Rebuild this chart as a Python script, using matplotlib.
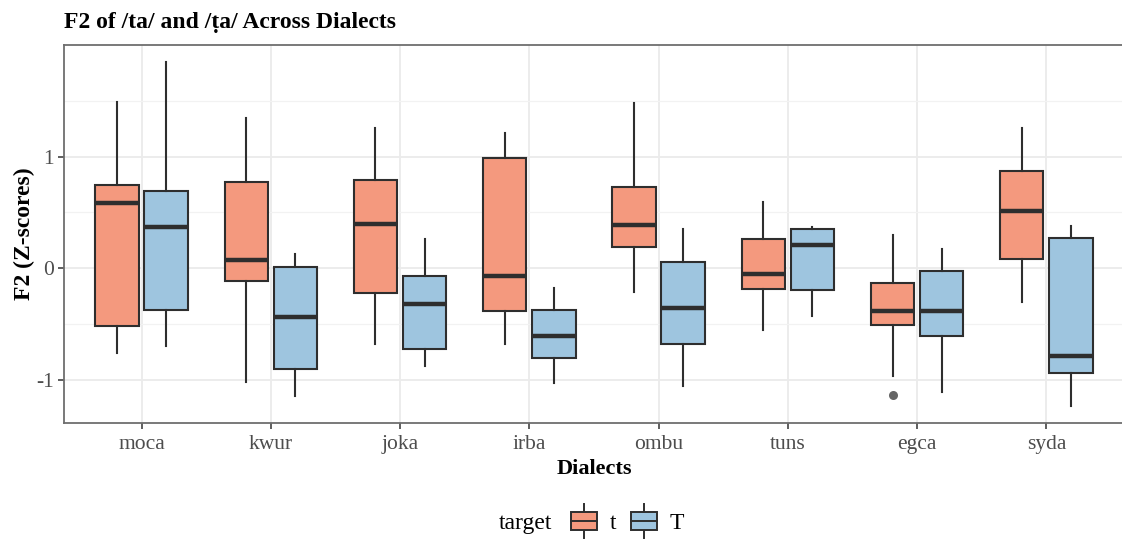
import matplotlib.pyplot as plt
from matplotlib.legend_handler import HandlerBase
from matplotlib.patches import Rectangle, Patch
from matplotlib.lines import Line2D
from matplotlib.ticker import FixedLocator

plt.rcParams['font.family'] = ['Liberation Serif', 'DejaVu Serif']

dialects = ['moca', 'kwur', 'joka', 'irba', 'ombu', 'tuns', 'egca', 'syda']

# five-number summaries of F2 (z-scored) per dialect, target /t/
t_lo  = [-0.76, -1.02, -0.678, -0.678, -0.215, -0.55, -0.962, -0.30]
t_q1  = [-0.517, -0.114, -0.224, -0.383, 0.191, -0.183, -0.511, 0.08]
t_med = [0.58, 0.074, 0.397, -0.072, 0.385, -0.051, -0.383, 0.51]
t_q3  = [0.746, 0.77, 0.79, 0.99, 0.731, 0.26, -0.129, 0.872]
t_hi  = [1.49, 1.35, 1.255, 1.21, 1.484, 0.597, 0.296, 1.26]
t_out = [[], [], [], [], [], [], [-1.135], []]

# same for target /T/
T_lo  = [-0.70, -1.14, -0.88, -1.025, -1.055, -0.427, -1.105, -1.231]
T_q1  = [-0.374, -0.905, -0.723, -0.80, -0.681, -0.194, -0.607, -0.941]
T_med = [0.373, -0.44, -0.317, -0.607, -0.353, 0.206, -0.383, -0.786]
T_q3  = [0.69, 0.009, -0.072, -0.377, 0.056, 0.355, -0.024, 0.271]
T_hi  = [1.85, 0.128, 0.263, -0.177, 0.349, 0.373, 0.176, 0.379]
T_out = [[], [], [], [], [], [], [], []]

targets = ['t', 'T']
fills = {'t': '#F4997E', 'T': '#9EC5DF'}
edge = '#2E2E2E'


def make_stats(lo, q1, med, q3, hi, out):
    return [dict(whislo=a, q1=b, med=c, q3=d, whishi=e, fliers=f)
            for a, b, c, d, e, f in zip(lo, q1, med, q3, hi, out)]


stats = {
    't': make_stats(t_lo, t_q1, t_med, t_q3, t_hi, t_out),
    'T': make_stats(T_lo, T_q1, T_med, T_q3, T_hi, T_out),
}

fig = plt.figure(figsize=(11.22, 5.45), dpi=100)
ax = fig.add_axes([0.0570, 0.2239, 0.9447, 0.6936])

x = list(range(len(dialects)))
offset = {'t': -0.19, 'T': 0.19}
for tg in targets:
    ax.bxp(stats[tg], positions=[i + offset[tg] for i in x], widths=0.335,
           patch_artist=True, showcaps=False,
           boxprops=dict(facecolor=fills[tg], edgecolor=edge, linewidth=1.5),
           medianprops=dict(color=edge, linewidth=3.2, solid_capstyle='butt'),
           whiskerprops=dict(color=edge, linewidth=1.5),
           flierprops=dict(marker='o', markerfacecolor='#666666',
                           markeredgecolor='none', markersize=6.5),
           zorder=3)

ax.set_xlim(-0.6, 7.6)
ax.set_ylim(-1.386, 2.0)
ax.set_xticks(x)
ax.set_xticklabels(dialects)
ax.set_yticks([-1, 0, 1])
ax.set_yticklabels(['-1', '0', '1'])
ax.yaxis.set_minor_locator(FixedLocator([-0.5, 0.5, 1.5]))

ax.grid(True, which='major', color='#EBEBEB', linewidth=1.3, zorder=0)
ax.grid(True, which='minor', axis='y', color='#F2F2F2', linewidth=0.9, zorder=0)
ax.set_axisbelow(True)
for s in ax.spines.values():
    s.set_color('#6E6E6E')
    s.set_linewidth(1.3)

ax.tick_params(axis='both', which='major', labelsize=15.5, labelcolor='#4D4D4D',
               color='#333333', length=4, width=1.1)
ax.tick_params(axis='x', which='major', pad=5)
ax.tick_params(axis='y', which='major', pad=3)
ax.tick_params(axis='y', which='minor', length=0)

ax.set_xlabel('Dialects', fontsize=16, fontweight='bold', labelpad=3)
ax.set_ylabel('F2 (Z-scores)', fontsize=17, fontweight='bold', labelpad=1)

fig.text(64 / 1122, 1 - 28 / 545, 'F2 of /ta/ and /ṭa/ Across Dialects',
         fontsize=17, fontweight='bold', ha='left', va='baseline')


class BoxKey(HandlerBase):
    # small boxplot glyph for the legend keys
    def create_artists(self, legend, orig_handle, xdescent, ydescent,
                       width, height, fontsize, trans):
        x0, y0 = -xdescent, -ydescent
        xm = x0 + width / 2
        box = Rectangle((x0, y0 + height * 0.25), width, height * 0.5,
                        facecolor=orig_handle.get_facecolor(),
                        edgecolor=edge, linewidth=1.4, transform=trans)
        med = Line2D([x0, x0 + width], [y0 + height / 2] * 2,
                     color=edge, linewidth=1.4, transform=trans)
        up = Line2D([xm, xm], [y0 + height * 0.75, y0 + height],
                    color=edge, linewidth=1.4, transform=trans)
        down = Line2D([xm, xm], [y0, y0 + height * 0.25],
                      color=edge, linewidth=1.4, transform=trans)
        return [up, down, box, med]


handles = [Patch(facecolor=fills[tg]) for tg in targets]
fig.legend(handles, targets, handler_map={Patch: BoxKey()},
           loc='center', bbox_to_anchor=(0.5593, 0.044), ncol=2,
           frameon=False, fontsize=17, handlelength=1.1, handleheight=1.9,
           handletextpad=0.55, columnspacing=0.6, borderpad=0, borderaxespad=0)
fig.text(552 / 1122, 1 - 529 / 545, 'target', fontsize=17,
         ha='right', va='baseline')

fig.savefig('out.png', dpi=100)
